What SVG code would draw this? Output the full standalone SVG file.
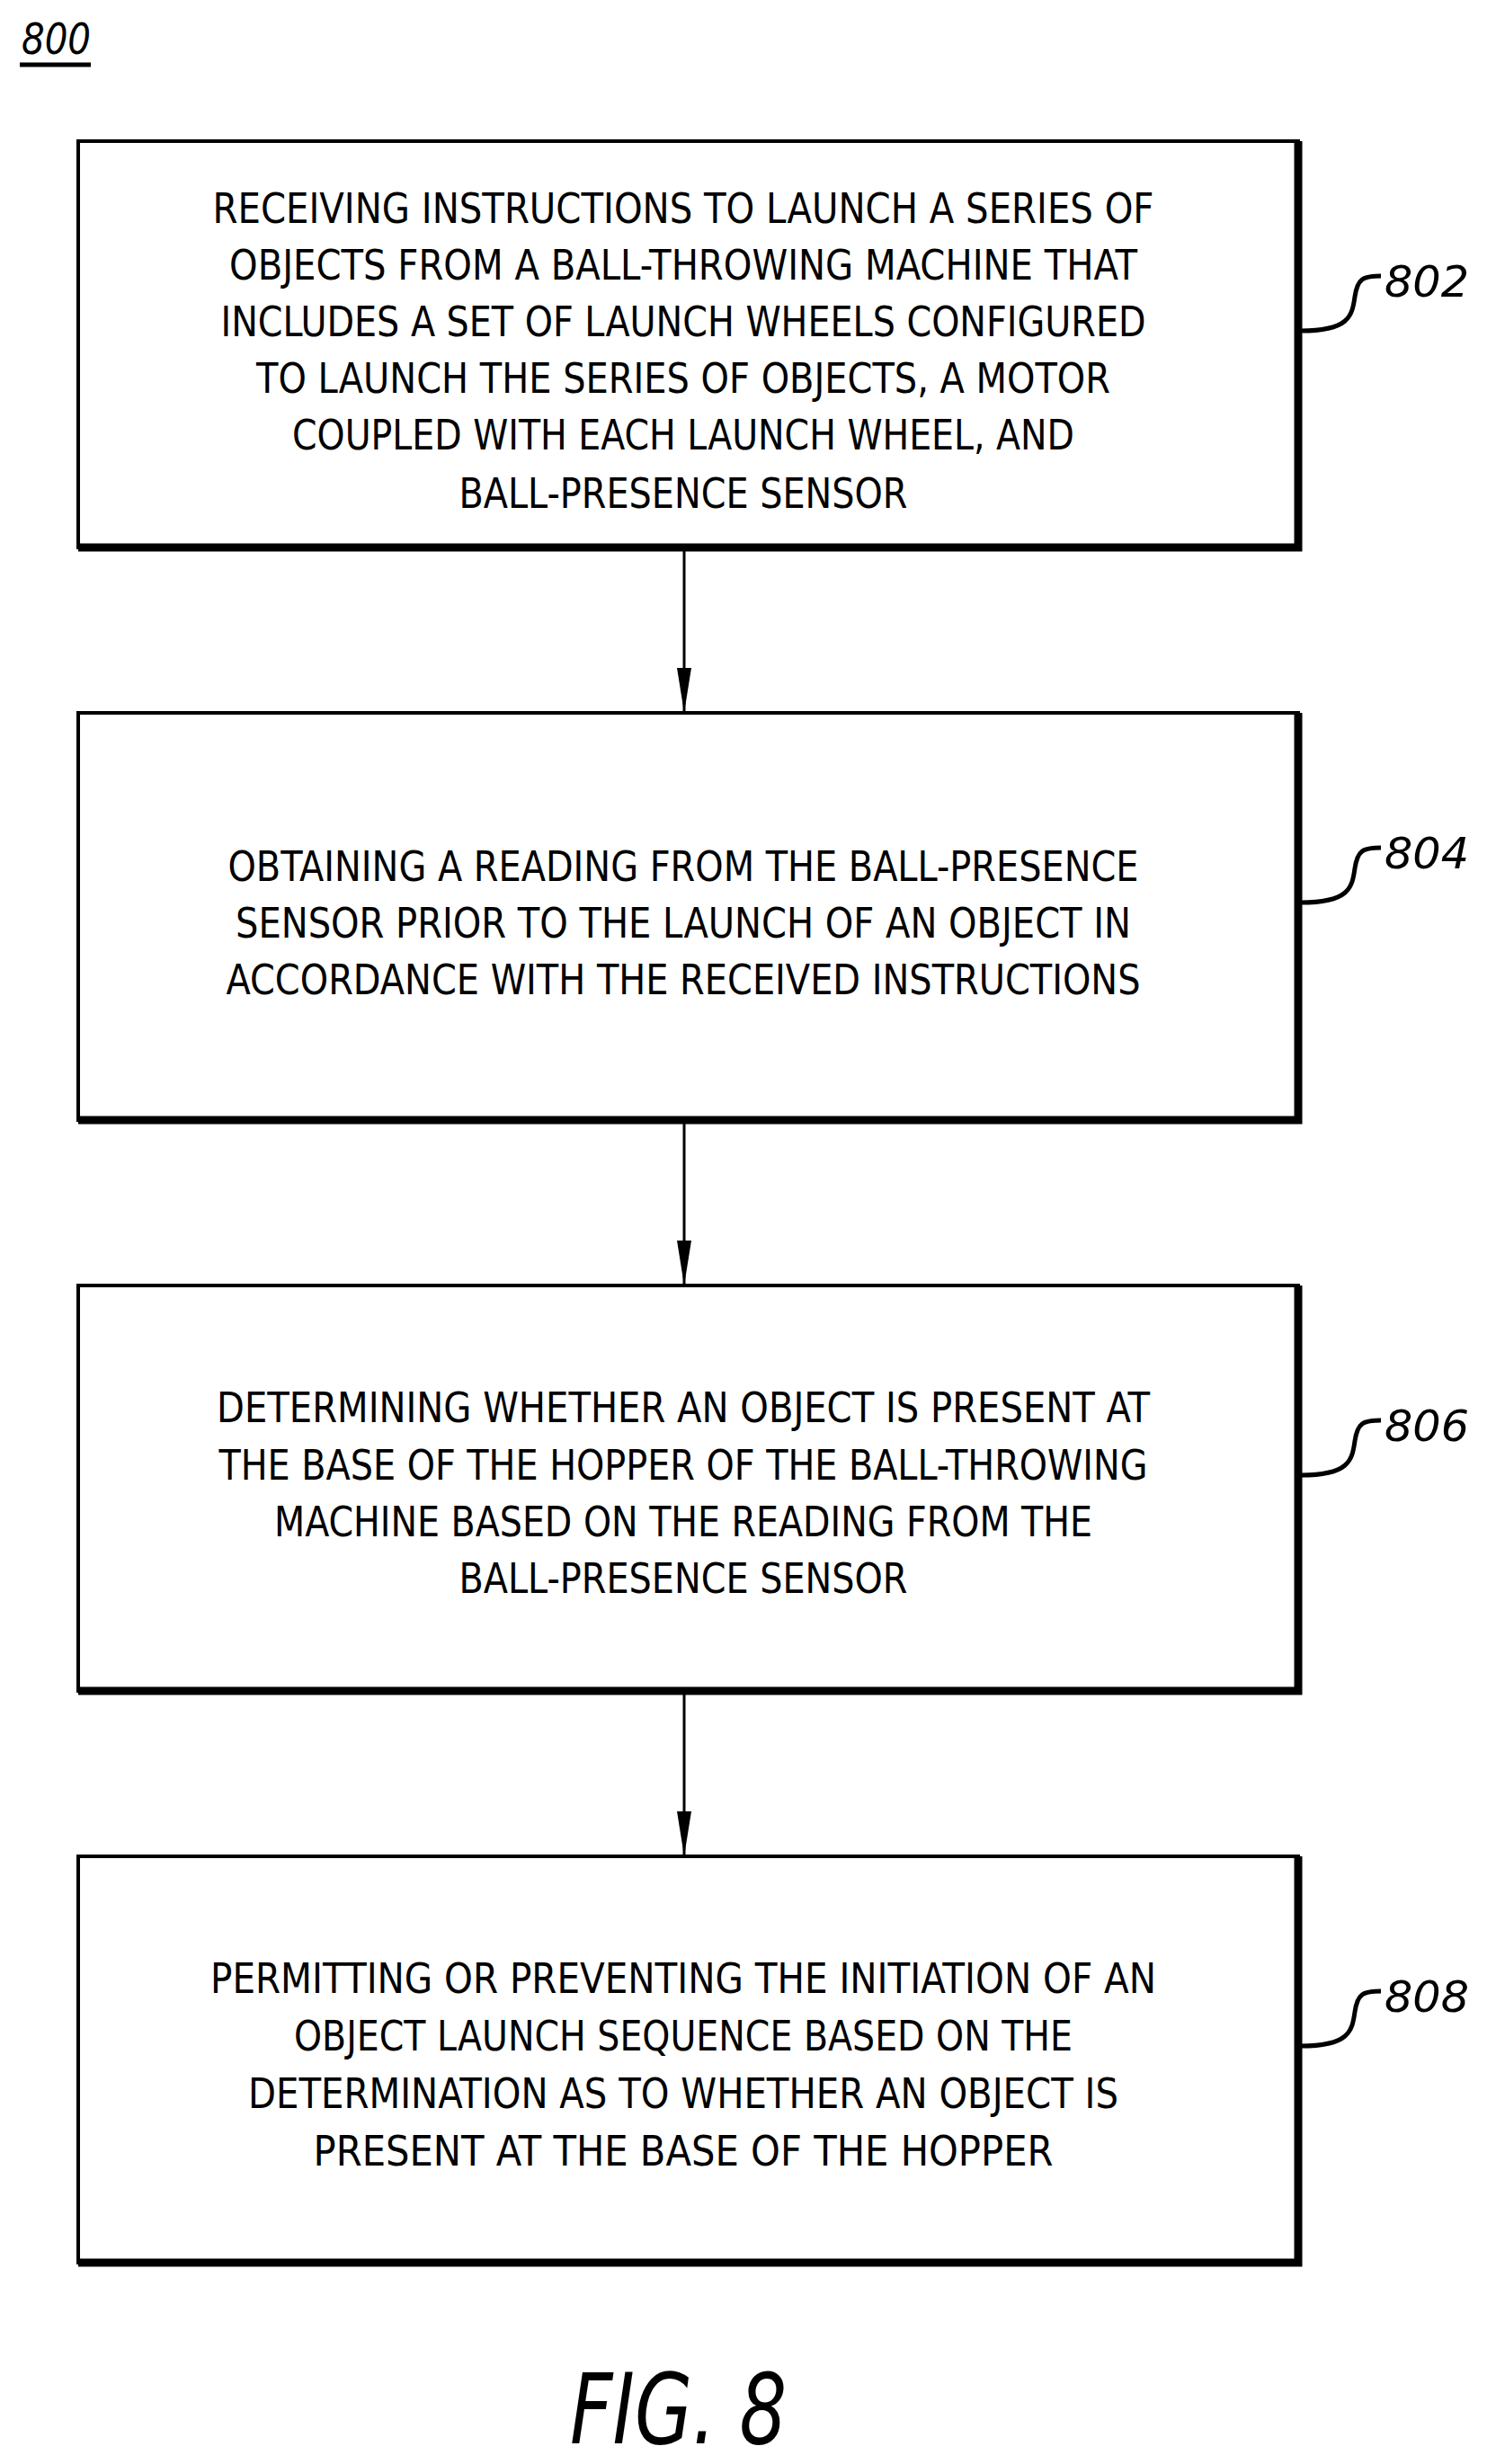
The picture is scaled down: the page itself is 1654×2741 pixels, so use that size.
<svg xmlns="http://www.w3.org/2000/svg" width="1654" height="2741" viewBox="0 0 1654 2741">
<style>
.box{fill:#fff;stroke:#000;stroke-width:4}
.sh{stroke:#000;stroke-width:9;fill:none}
.t{font-family:"DejaVu Sans Condensed","Liberation Sans",sans-serif;font-size:46px;text-anchor:middle;fill:#000}
.lbl{font-family:"DejaVu Sans Condensed","Liberation Sans",sans-serif;font-size:48px;font-style:italic;fill:#000}
.fig{font-family:"DejaVu Sans Condensed","Liberation Sans",sans-serif;font-size:108px;font-style:italic;fill:#000}
.ld{stroke:#000;stroke-width:5;fill:none}
.ar{stroke:#000;stroke-width:3;fill:none}
</style>
<text class="lbl" x="24" y="60" textLength="77" lengthAdjust="spacingAndGlyphs">800</text>
<line x1="22" y1="72" x2="101" y2="72" stroke="#000" stroke-width="5"/>
<g id="connectors">
<line class="ar" x1="761" y1="609" x2="761" y2="793"/><path d="M753,743 L769,743 L761,793 Z"/>
<line class="ar" x1="761" y1="1246" x2="761" y2="1430"/><path d="M753,1380 L769,1380 L761,1430 Z"/>
<line class="ar" x1="761" y1="1881" x2="761" y2="2065"/><path d="M753,2015 L769,2015 L761,2065 Z"/>
</g>
<g id="n802">
<rect class="box" x="87" y="157" width="1357" height="452"/>
<path class="sh" d="M87,609 H1444 V157"/>
<text class="t" x="760" y="248" textLength="1047" lengthAdjust="spacingAndGlyphs">RECEIVING INSTRUCTIONS TO LAUNCH A SERIES OF</text>
<text class="t" x="760" y="311" textLength="1010" lengthAdjust="spacingAndGlyphs">OBJECTS FROM A BALL-THROWING MACHINE THAT</text>
<text class="t" x="760" y="374" textLength="1029" lengthAdjust="spacingAndGlyphs">INCLUDES A SET OF LAUNCH WHEELS CONFIGURED</text>
<text class="t" x="760" y="437" textLength="950" lengthAdjust="spacingAndGlyphs">TO LAUNCH THE SERIES OF OBJECTS, A MOTOR</text>
<text class="t" x="760" y="500" textLength="870" lengthAdjust="spacingAndGlyphs">COUPLED WITH EACH LAUNCH WHEEL, AND</text>
<text class="t" x="760" y="565" textLength="499" lengthAdjust="spacingAndGlyphs">BALL-PRESENCE SENSOR</text>
<path class="ld" d="M1447,368 C1500,368 1504,352 1507,330 C1510,310 1516,307 1536,307"/>
<text class="lbl" x="1540" y="330" textLength="94" lengthAdjust="spacingAndGlyphs">802</text>
</g>
<g id="n804">
<rect class="box" x="87" y="793" width="1357" height="453"/>
<path class="sh" d="M87,1246 H1444 V793"/>
<text class="t" x="760" y="980" textLength="1013" lengthAdjust="spacingAndGlyphs">OBTAINING A READING FROM THE BALL-PRESENCE</text>
<text class="t" x="760" y="1043" textLength="996" lengthAdjust="spacingAndGlyphs">SENSOR PRIOR TO THE LAUNCH OF AN OBJECT IN</text>
<text class="t" x="760" y="1106" textLength="1017" lengthAdjust="spacingAndGlyphs">ACCORDANCE WITH THE RECEIVED INSTRUCTIONS</text>
<path class="ld" d="M1447,1004 C1500,1004 1504,988 1507,966 C1510,946 1516,943 1536,943"/>
<text class="lbl" x="1540" y="966" textLength="94" lengthAdjust="spacingAndGlyphs">804</text>
</g>
<g id="n806">
<rect class="box" x="87" y="1430" width="1357" height="451"/>
<path class="sh" d="M87,1881 H1444 V1430"/>
<text class="t" x="760" y="1582" textLength="1038" lengthAdjust="spacingAndGlyphs">DETERMINING WHETHER AN OBJECT IS PRESENT AT</text>
<text class="t" x="760" y="1646" textLength="1033" lengthAdjust="spacingAndGlyphs">THE BASE OF THE HOPPER OF THE BALL-THROWING</text>
<text class="t" x="760" y="1709" textLength="910" lengthAdjust="spacingAndGlyphs">MACHINE BASED ON THE READING FROM THE</text>
<text class="t" x="760" y="1772" textLength="499" lengthAdjust="spacingAndGlyphs">BALL-PRESENCE SENSOR</text>
<path class="ld" d="M1447,1641 C1500,1641 1504,1625 1507,1603 C1510,1583 1516,1580 1536,1580"/>
<text class="lbl" x="1540" y="1603" textLength="94" lengthAdjust="spacingAndGlyphs">806</text>
</g>
<g id="n808">
<rect class="box" x="87" y="2065" width="1357" height="452"/>
<path class="sh" d="M87,2517 H1444 V2065"/>
<text class="t" x="760" y="2217" textLength="1052" lengthAdjust="spacingAndGlyphs">PERMITTING OR PREVENTING THE INITIATION OF AN</text>
<text class="t" x="760" y="2281" textLength="866" lengthAdjust="spacingAndGlyphs">OBJECT LAUNCH SEQUENCE BASED ON THE</text>
<text class="t" x="760" y="2345" textLength="968" lengthAdjust="spacingAndGlyphs">DETERMINATION AS TO WHETHER AN OBJECT IS</text>
<text class="t" x="760" y="2409" textLength="823" lengthAdjust="spacingAndGlyphs">PRESENT AT THE BASE OF THE HOPPER</text>
<path class="ld" d="M1447,2276 C1500,2276 1504,2260 1507,2238 C1510,2218 1516,2215 1536,2215"/>
<text class="lbl" x="1540" y="2238" textLength="94" lengthAdjust="spacingAndGlyphs">808</text>
</g>
<text class="fig" x="634" y="2718" textLength="241" lengthAdjust="spacingAndGlyphs">FIG. 8</text>
</svg>
